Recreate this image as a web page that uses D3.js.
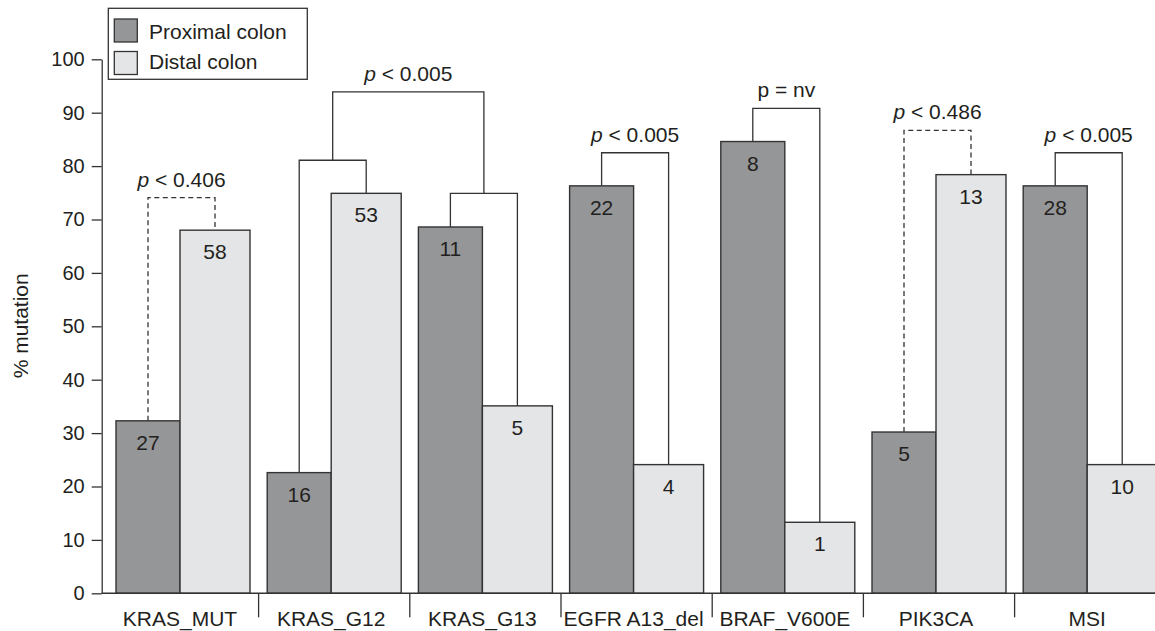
<!DOCTYPE html>
<html>
<head>
<meta charset="utf-8">
<script src="https://cdn.jsdelivr.net/npm/d3@7"></script>
<style>
  html, body { margin: 0; padding: 0; background: #fff; overflow: hidden; }
  svg { display: block; font-family: "Liberation Sans", Arial, Helvetica, sans-serif; }
</style>
</head>
<body>
<script>
// ---------- data ----------
const categories = ["KRAS_MUT", "KRAS_G12", "KRAS_G13", "EGFR A13_del", "BRAF_V600E", "PIK3CA", "MSI"];
const seriesNames = ["Proximal colon", "Distal colon"];
const proximal = [32.3, 22.6, 68.6, 76.3, 84.6, 30.2, 76.3];
const distal   = [68.0, 74.9, 35.1, 24.1, 13.3, 78.4, 24.1];
const proximalN = [27, 16, 11, 22, 8, 5, 28];
const distalN   = [58, 53, 5, 4, 1, 13, 10];
const yTicks = [0, 10, 20, 30, 40, 50, 60, 70, 80, 90, 100];
const yLabel = "% mutation";

// significance brackets (single pair per category)
const pairCats    = ["KRAS_MUT", "EGFR A13_del", "BRAF_V600E", "PIK3CA", "MSI"];
const pairTops    = [74.1, 82.5, 90.8, 86.7, 82.5];
const pairRel     = ["< 0.406", "< 0.005", "= nv", "< 0.486", "< 0.005"];
const pairDashed  = [true, false, false, true, false];
const pairItalicP = [true, true, false, true, true];
// nested bracket joining two categories
const nestedCats = ["KRAS_G12", "KRAS_G13"];
const nestedTops = [81.1, 74.9];
const joinTop = 93.9;
const joinRel = "< 0.005";

// ---------- drawing ----------
const W = 1155, H = 631;
const colProx = "#959698", colDist = "#e4e5e7", ink = "#333333", txt = "#231f20";
const FS = 21;

const svg = d3.select("body").append("svg").attr("width", W).attr("height", H);

const y = d3.scaleLinear().domain([0, 100]).range([593.3, 59.3]);
const x = d3.scaleBand().domain(categories)
  .range([101.7, 1171.5]).paddingInner(0.1138).paddingOuter(0.0946);
const split = 64 / 134;
const bw = x.bandwidth();
const x0 = c => x(c);
const xm = c => x(c) + bw * split;
const x1 = c => x(c) + bw;
const proxC = c => (x0(c) + xm(c)) / 2;
const distC = c => (xm(c) + x1(c)) / 2;
const idx = c => categories.indexOf(c);

// bars
const gBars = svg.append("g");
categories.forEach((c, i) => {
  gBars.append("rect")
    .attr("x", x0(c)).attr("y", y(proximal[i]))
    .attr("width", xm(c) - x0(c)).attr("height", y(0) - y(proximal[i]))
    .attr("fill", colProx).attr("stroke", ink).attr("stroke-width", 1.4);
  gBars.append("rect")
    .attr("x", xm(c)).attr("y", y(distal[i]))
    .attr("width", x1(c) - xm(c)).attr("height", y(0) - y(distal[i]))
    .attr("fill", colDist).attr("stroke", ink).attr("stroke-width", 1.4);
  gBars.append("text").attr("x", proxC(c)).attr("y", y(proximal[i]) + 29)
    .attr("text-anchor", "middle").attr("font-size", FS).attr("fill", txt).text(proximalN[i]);
  gBars.append("text").attr("x", distC(c)).attr("y", y(distal[i]) + 29)
    .attr("text-anchor", "middle").attr("font-size", FS).attr("fill", txt).text(distalN[i]);
});

// y axis
const gy = svg.append("g").attr("transform", "translate(101.7,0)")
  .call(d3.axisLeft(y).tickValues(yTicks).tickSize(10).tickSizeOuter(0).tickPadding(7));
gy.attr("font-family", null).attr("font-size", 20);
gy.selectAll("path, line").attr("stroke", ink).attr("stroke-width", 1.3);
gy.selectAll("text").attr("fill", txt);

svg.append("text")
  .attr("transform", `translate(28,${(y(0) + y(100)) / 2 - 0.5}) rotate(-90)`)
  .attr("text-anchor", "middle").attr("font-size", FS).attr("fill", txt).text(yLabel);

// baseline
svg.append("line").attr("x1", 101.7).attr("x2", W).attr("y1", y(0)).attr("y2", y(0))
  .attr("stroke", ink).attr("stroke-width", 1.4);

// category separators + labels
const gap = x.step() - bw;
categories.forEach((c, i) => {
  if (i > 0) {
    const sx = x0(c) - gap / 2;
    svg.append("line").attr("x1", sx).attr("x2", sx).attr("y1", y(0)).attr("y2", y(0) + 24)
      .attr("stroke", ink).attr("stroke-width", 1.3);
  }
  svg.append("text").attr("x", xm(c)).attr("y", 626)
    .attr("text-anchor", "middle").attr("font-size", FS).attr("fill", txt).text(c);
});

// brackets
function bracket(xa, ya, xb, yb, top, dashed) {
  svg.append("path")
    .attr("d", `M${xa},${ya}V${top}H${xb}V${yb}`)
    .attr("fill", "none").attr("stroke", ink).attr("stroke-width", 1.3)
    .attr("stroke-dasharray", dashed ? "5,3.5" : null);
}
function pLabel(cx, baseY, rel, italic) {
  const t = svg.append("text").attr("x", cx).attr("y", baseY)
    .attr("text-anchor", "middle").attr("font-size", FS).attr("fill", txt);
  t.append("tspan").attr("font-style", italic ? "italic" : "normal").text("p");
  t.append("tspan").text(" " + rel);
}

pairCats.forEach((c, k) => {
  const i = idx(c);
  const xa = proxC(c), xb = distC(c), top = y(pairTops[k]);
  bracket(xa, y(proximal[i]), xb, y(distal[i]), top, pairDashed[k]);
  pLabel((xa + xb) / 2, top - 11, pairRel[k], pairItalicP[k]);
});

const mids = nestedCats.map((c, k) => {
  const i = idx(c);
  const xa = proxC(c), xb = distC(c), top = y(nestedTops[k]);
  bracket(xa, y(proximal[i]), xb, y(distal[i]), top, false);
  return { x: (xa + xb) / 2, top };
});
bracket(mids[0].x, mids[0].top, mids[1].x, mids[1].top, y(joinTop), false);
pLabel((mids[0].x + mids[1].x) / 2, y(joinTop) - 11, joinRel, true);

// legend
const lg = svg.append("g");
lg.append("rect").attr("x", 108.3).attr("y", 8.3).attr("width", 199).attr("height", 71)
  .attr("fill", "#fff").attr("stroke", ink).attr("stroke-width", 1.3);
[colProx, colDist].forEach((col, k) => {
  lg.append("rect").attr("x", 114.3).attr("y", 19 + k * 32.5).attr("width", 23).attr("height", 23)
    .attr("fill", col).attr("stroke", ink).attr("stroke-width", 1.3);
  lg.append("text").attr("x", 149).attr("y", 39.3 + k * 30).attr("font-size", FS)
    .attr("fill", txt).text(seriesNames[k]);
});
</script>
</body>
</html>
